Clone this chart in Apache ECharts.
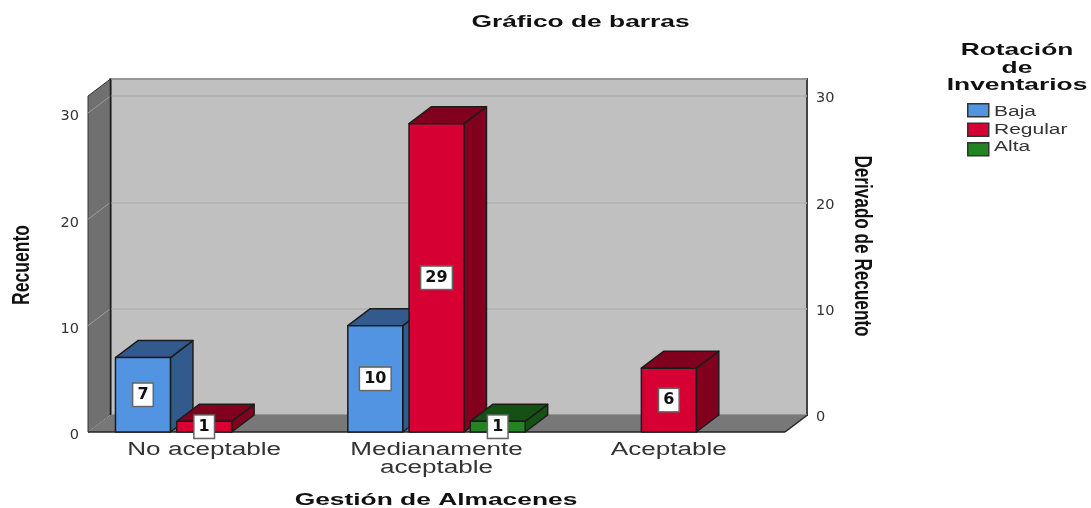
<!DOCTYPE html>
<html><head><meta charset="utf-8">
<style>html,body{margin:0;padding:0;background:#fff}#c{width:1091px;height:508px}</style>
<script src="https://cdn.jsdelivr.net/npm/echarts@6/dist/echarts.min.js"></script>
</head><body><div id="c"></div>
<script>
const categories = ['No aceptable', 'Medianamente\naceptable', 'Aceptable'];
const baja = [7, 10, null];
const regular = [1, 29, 6];
const alta = [null, 1, null];
const yTicks = [0, 10, 20, 30];
const legendLabels = ['Baja', 'Regular', 'Alta'];
const titleText = 'Gráfico de barras';
const xTitle = 'Gestión de Almacenes';
const yTitleLeft = 'Recuento';
const yTitleRight = 'Derivado de Recuento';
const legendTitle = ['Rotación', 'de', 'Inventarios'];

const DX = 22.5, DY = 17;
const YMAX = 31.6;
const FONT = '"Liberation Sans", Arial, sans-serif';
const EDGE = '#1c1c1c';

function toData(v) { return v.map((d, i) => d == null ? null : [i, d]).filter(Boolean); }

function barSeries(name, values, slot, front, dark) {
  return {
    name, type: 'custom', xAxisIndex: 0, yAxisIndex: 0, z: 5,
    itemStyle: { color: front, borderColor: '#222', borderWidth: 1.5 },
    data: toData(values),
    encode: { x: 0, y: 1 },
    renderItem(params, api) {
      const band = api.size([1, 0])[0];
      const c = api.coord([api.value(0), 0]);
      const t = api.coord([api.value(0), api.value(1)]);
      const cx = c[0] + slot * band * 0.2635;
      const hw = band * 0.2365 / 2;
      const l = cx - hw, r = cx + hw, b = c[1], h = t[1];
      const st = f => ({ fill: f, stroke: EDGE, lineWidth: 1.5, lineJoin: 'round' });
      return {
        type: 'group',
        children: [
          { type: 'polygon', shape: { points: [[r, b], [r, h], [r + DX, h - DY], [r + DX, b - DY]] }, style: st(dark) },
          { type: 'polygon', shape: { points: [[l, h], [r, h], [r + DX, h - DY], [l + DX, h - DY]] }, style: st(dark) },
          { type: 'polygon', shape: { points: [[l, b], [r, b], [r, h], [l, h]] }, style: st(front) },
          { type: 'text', x: cx, y: (b + h) / 2, z2: 50,
            style: { text: String(api.value(1)), align: 'center', verticalAlign: 'middle',
              fontFamily: '"DejaVu Sans"', fontWeight: 'bold', fontSize: 16, lineHeight: 16,
              fill: '#111', backgroundColor: '#fff', borderColor: '#666', borderWidth: 1.5, padding: [3, 4] } }
        ]
      };
    }
  };
}

const wallSeries = {
  type: 'custom', xAxisIndex: 0, yAxisIndex: 0, z: 2, silent: true, legendHoverLink: false,
  data: [[0, 0]],
  renderItem(params, api) {
    const band = api.size([1, 0])[0];
    const p0 = api.coord([0, 0]);
    const pT = api.coord([0, YMAX]);
    const L = p0[0] - band / 2, R = L + band * categories.length, B = p0[1], T = pT[1];
    const children = [
      { type: 'polygon', shape: { points: [[L, B], [R, B], [R + DX, B - DY], [L + DX, B - DY]] },
        style: { fill: '#787878', stroke: null } },
      { type: 'polygon', shape: { points: [[L, B], [L, T], [L + DX, T - DY], [L + DX, B - DY]] },
        style: { fill: '#707070', stroke: '#333', lineWidth: 1 } }
    ];
    yTicks.forEach(v => {
      const y = api.coord([0, v])[1];
      children.push({ type: 'line', shape: { x1: L, y1: y, x2: L + DX, y2: y - DY },
        style: { stroke: '#9c9c9c', lineWidth: 1 } });
    });
    children.push(
      { type: 'line', shape: { x1: L + DX, y1: T - DY, x2: L + DX, y2: B - DY }, style: { stroke: '#1a1a1a', lineWidth: 1.5 } },
      { type: 'line', shape: { x1: R, y1: B, x2: R + DX, y2: B - DY }, style: { stroke: '#222', lineWidth: 1.5 } },
      { type: 'line', shape: { x1: L, y1: B, x2: R, y2: B }, style: { stroke: '#222', lineWidth: 1.5 } }
    );
    return { type: 'group', children };
  }
};

const xLabelSeries = {
  type: 'custom', xAxisIndex: 0, yAxisIndex: 0, z: 6, silent: true,
  data: categories.map((c, i) => [i, 0]),
  renderItem(params, api) {
    const p = api.coord([api.value(0), 0]);
    return { type: 'text', x: p[0], y: p[1] + 9, scaleX: 1.45,
      style: { text: categories[params.dataIndex], align: 'center', verticalAlign: 'top',
        fontFamily: FONT, fontSize: 18, lineHeight: 18, fill: '#333' } };
  }
};

function txt(text, x, y, o) {
  return Object.assign({ type: 'text', x, y, z: 20,
    style: Object.assign({ text, align: 'center', verticalAlign: 'middle', fontFamily: FONT, fill: '#111' }, o.style) },
    o.el);
}

const graphics = [
  txt(titleText, 580.5, 22.5, { el: { scaleX: 1.55 }, style: { fontSize: 17, fontWeight: 'bold' } }),
  txt(xTitle, 436, 500.5, { el: { scaleX: 1.55 }, style: { fontSize: 17, fontWeight: 'bold' } }),
  txt(yTitleLeft, 22, 265, { el: { rotation: Math.PI / 2, scaleX: 0.73 }, style: { fontSize: 24, fontWeight: 'bold' } }),
  txt(yTitleRight, 861.5, 246, { el: { rotation: -Math.PI / 2, scaleX: 0.715 }, style: { fontSize: 24, fontWeight: 'bold' } })
];
legendTitle.forEach((t, i) => graphics.push(
  txt(t, 1017, 50.5 + i * 17.5, { el: { scaleX: 1.55 }, style: { fontSize: 17, fontWeight: 'bold' } })));
legendLabels.forEach((t, i) => graphics.push(
  txt(t, 994, 112 + i * 17.7, { el: { scaleX: 1.5 }, style: { align: 'left', fontSize: 14, fill: '#333' } })));

const tickLabel = { customValues: yTicks, margin: 9, color: '#333', fontFamily: '"DejaVu Sans"', fontSize: 14.5, verticalAlign: 'top', lineHeight: 7 };
const tickLabelRight = Object.assign({}, tickLabel, { lineHeight: 5 });

const chart = echarts.init(document.getElementById('c'), null, { renderer: 'canvas' });
chart.setOption({
  animation: false,
  backgroundColor: '#fff',
  grid: [
    { left: 88, top: 96, width: 697, height: 336, containLabel: false },
    { left: 110.5, top: 79, width: 696.5, height: 336, show: true, backgroundColor: '#c0c0c0',
      borderColor: '#444', borderWidth: 2 }
  ],
  xAxis: [
    { type: 'category', gridIndex: 0, data: categories, axisLine: { show: false }, axisTick: { show: false }, axisLabel: { show: false } },
    { type: 'category', gridIndex: 1, data: categories, show: false }
  ],
  yAxis: [
    { type: 'value', gridIndex: 0, min: 0, max: YMAX, interval: 10, position: 'left',
      splitLine: { show: false }, axisTick: { show: false },
      axisLine: { show: true, lineStyle: { color: '#333', width: 1 } },
      axisLabel: tickLabel },
    { type: 'value', gridIndex: 1, min: 0, max: YMAX, interval: 10, position: 'right',
      splitLine: { show: true, lineStyle: { color: '#b0b0b0', width: 1.5 } },
      axisTick: { show: false }, axisLine: { show: false },
      axisLabel: tickLabelRight }
  ],
  legend: {
    orient: 'vertical', left: 962, top: 98, itemWidth: 21, itemHeight: 13, itemGap: 5,
    icon: 'rect', selectedMode: false, formatter: () => ' ',
    data: legendLabels,
    itemStyle: { borderColor: '#333', borderWidth: 1.5 }
  },
  series: [
    wallSeries,
    barSeries('Baja', baja, -1, '#5294e2', '#335a8c'),
    barSeries('Regular', regular, 0, '#d60032', '#80001e'),
    barSeries('Alta', alta, 1, '#248424', '#155015'),
    xLabelSeries
  ],
  graphic: graphics
});
</script></body></html>
